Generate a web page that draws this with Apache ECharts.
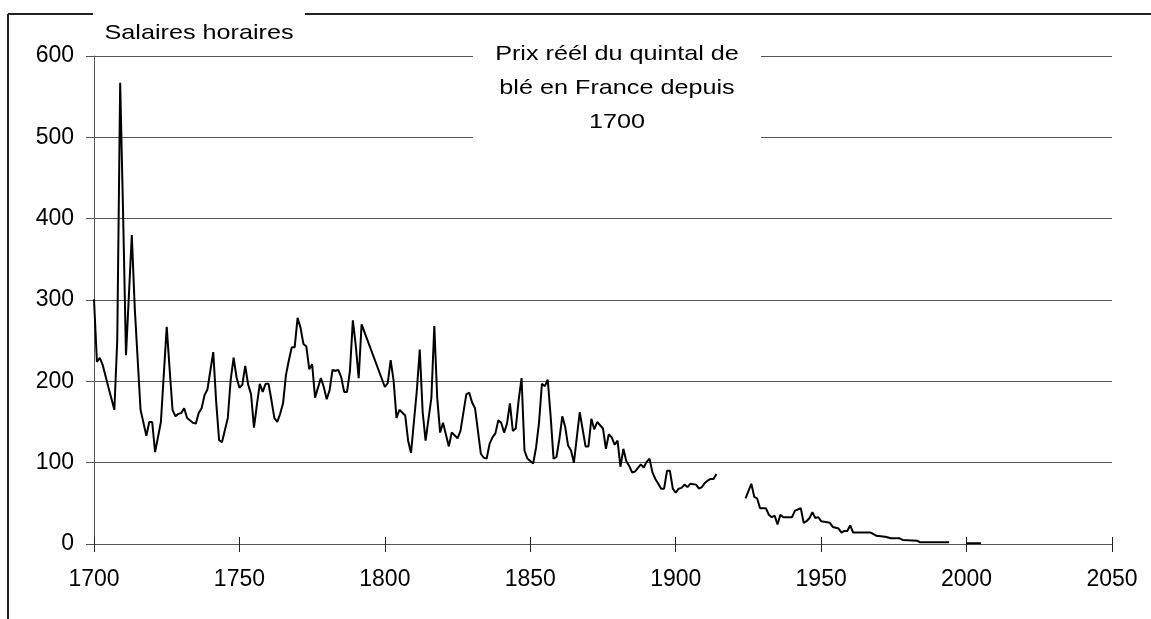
<!DOCTYPE html>
<html>
<head>
<meta charset="utf-8">
<script src="https://cdn.jsdelivr.net/npm/echarts@6/dist/echarts.min.js"></script>
<style>
html,body{margin:0;padding:0;background:#fff;}
#chart{width:1151px;height:619px;}
</style>
</head>
<body>
<div id="chart"></div>
<script>
// Tick labels
const xTicks = [1700, 1750, 1800, 1850, 1900, 1950, 2000, 2050];
const yTicks = [0, 100, 200, 300, 400, 500, 600];

// Years and real price of a quintal of wheat (null = gap in the series)
const years = [
  1700,1701,1702,1703,1705,1707,1708,1709,1710,1711,1713,1714,1716,1718,1719,1720,1721,1723,1725,1726,
  1727,1728,1729,1730,1731,1732,1734,1735,1736,1737,1738,1739,1740,1741,1742,1743,1744,1746,1747,1748,
  1749,1750,1751,1752,1753,1754,1755,1756,1757,1758,1759,1760,1761,1762,1763,1764,1765,1766,1767,1768,
  1769,1770,1771,1772,1773,1774,1775,1776,1778,1779,1780,1781,1782,1783,1784,1785,1786,1787,1788,1789,
  1790,1791,1792,1800,1801,1802,1803,1804,1805,1807,1808,1809,1811,1812,1813,1814,1816,1817,1818,1819,
  1820,1822,1823,1825,1826,1828,1829,1830,1831,1833,1834,1835,1836,1837,1838,1839,1840,1841,1842,1843,
  1844,1845,1846,1847,1848,1849,1851,1852,1853,1854,1855,1856,1857,1858,1859,1860,1861,1862,1863,1864,
  1865,1867,1869,1870,1871,1872,1873,1875,1876,1877,1878,1879,1880,1881,1882,1883,1884,1885,1886,1888,
  1889,1890,1891,1892,1893,1894,1895,1896,1897,1898,1899,1900,1901,1902,1903,1904,1905,1907,1908,1909,
  1910,1911,1912,1913,1914,1918,1924,1926,1927,1928,1929,1931,1932,1933,1934,1935,1936,1937,1940,1941,
  1943,1944,1945,1946,1947,1948,1949,1950,1953,1954,1955,1956,1957,1958,1959,1960,1961,1967,1968,1969,
  1972,1974,1977,1978,1983,1984,1994,1997,2000,2005
];
const prices = [
  301,224,229,220,192,165,251,567,407,232,380,291,165,133,150,150,113,150,267,215,
  165,157,160,161,167,155,149,148,161,167,183,190,213,236,175,128,125,155,202,229,
  205,192,196,219,196,184,143,171,197,187,197,197,177,155,150,160,173,208,226,242,
  242,278,266,246,243,215,221,180,204,193,178,189,214,213,214,205,187,187,213,275,
  244,204,270,193,198,226,201,155,165,158,127,112,189,239,162,127,180,268,180,137,
  149,120,137,130,139,184,186,174,167,111,106,105,123,131,136,152,149,137,148,173,
  139,142,177,204,115,105,99,119,149,197,194,202,157,105,107,129,157,144,121,115,
  100,162,120,120,154,141,150,142,117,135,131,122,127,95,117,102,96,88,89,98,
  94,101,105,88,80,74,68,68,90,90,68,63,68,69,73,70,74,73,68,70,
  75,78,80,80,86,null,56,74,58,56,44,44,36,33,35,24,36,33,33,41,
  44,26,28,32,39,32,33,28,26,21,20,19,14,16,16,23,14,14,12,10,
  9,7,7,5,4,2,2,null,1,1
];

const titleText = 'Prix réél du quintal de\nblé en France depuis\n1700';
const sideLabel = 'Salaires horaires';

const FONT = '"Liberation Sans", Arial, sans-serif';
const chart = echarts.init(document.getElementById('chart'), null, {renderer: 'canvas'});

const seriesData = years.map((y, i) => [y, prices[i]]);

const option = {
  animation: false,
  backgroundColor: '#fff',
  grid: {left: 94, right: 39, top: 56, bottom: 75, containLabel: false},
  xAxis: [
    {
      type: 'value', min: xTicks[0], max: xTicks[xTicks.length - 1], interval: 50,
      axisLine: {show: true, onZero: false, lineStyle: {color: '#555', width: 1}},
      axisTick: {show: true, inside: false, length: 8, lineStyle: {color: '#222', width: 1}},
      axisLabel: {show: true, margin: 24, color: '#000', fontSize: 23, fontFamily: FONT,
        formatter: v => String(v)},
      splitLine: {show: false}
    },
    {
      type: 'value', min: xTicks[0], max: xTicks[xTicks.length - 1], interval: 50, position: 'bottom',
      axisLine: {show: false},
      axisTick: {show: true, inside: true, length: 7, lineStyle: {color: '#222', width: 1}},
      axisLabel: {show: false},
      splitLine: {show: false}
    }
  ],
  yAxis: {
    type: 'value', min: yTicks[0], max: yTicks[yTicks.length - 1], interval: 100,
    axisLine: {show: true, lineStyle: {color: '#555', width: 1}},
    axisTick: {show: true, inside: false, length: 8, lineStyle: {color: '#555', width: 1}},
    axisLabel: {show: true, margin: 20, color: '#000', fontSize: 23, fontFamily: FONT},
    splitLine: {show: true, lineStyle: {color: '#555', width: 1}}
  },
  series: [{
    type: 'line',
    xAxisIndex: 0,
    data: seriesData,
    showSymbol: false,
    connectNulls: false,
    lineStyle: {color: '#000', width: 2},
    itemStyle: {color: '#000'},
    z: 5
  }],
  graphic: [
    {type: 'line', z: 50, shape: {x1: 8, y1: 14, x2: 1151, y2: 14}, style: {stroke: '#222', lineWidth: 2}},
    {type: 'line', z: 50, shape: {x1: 8, y1: 14, x2: 8, y2: 619}, style: {stroke: '#222', lineWidth: 2}},
    {type: 'rect', z: 100, shape: {x: 93, y: 4, width: 212, height: 46}, style: {fill: '#fff'}},
    {type: 'text', z: 101, x: 199, y: 33, scaleX: 1.2,
      style: {text: sideLabel, x: 0, y: 0, font: '21px ' + FONT, fill: '#000',
        textAlign: 'center', textVerticalAlign: 'middle'}},
    {type: 'rect', z: 100, shape: {x: 473, y: 38, width: 288, height: 106}, style: {fill: '#fff'}},
    {type: 'text', z: 101, x: 617, y: 88, scaleX: 1.2,
      style: {text: titleText, x: 0, y: 0, font: '21px ' + FONT, fill: '#000', lineHeight: 34,
        textAlign: 'center', textVerticalAlign: 'middle'}}
  ]
};
chart.setOption(option);
</script>
</body>
</html>
